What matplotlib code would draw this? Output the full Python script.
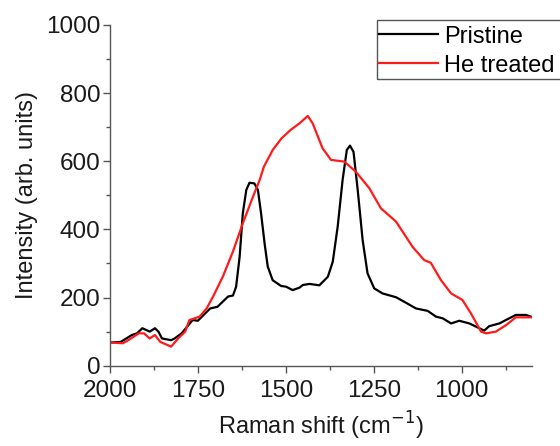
import matplotlib
matplotlib.use("Agg")
import matplotlib.pyplot as plt
from matplotlib.patches import Rectangle
from matplotlib.ticker import MultipleLocator

plt.rcParams['font.family'] = ['Liberation Sans', 'DejaVu Sans']

# Raman spectra
pristine_x = [2000, 1970, 1939, 1924, 1909, 1898, 1888, 1873, 1863, 1853, 1827, 1817,
              1797, 1766, 1751, 1716, 1695, 1665, 1651, 1642, 1632, 1623, 1613, 1604,
              1590, 1580, 1571, 1561, 1552, 1538, 1514, 1500, 1481, 1462, 1452, 1433,
              1405, 1381, 1367, 1353, 1339, 1327, 1318, 1308, 1296, 1282, 1268, 1249,
              1225, 1187, 1159, 1130, 1097, 1073, 1054, 1030, 1007, 978, 950, 936,
              922, 893, 865, 846, 817, 803]
pristine_y = [68, 70, 90, 95, 110, 105, 100, 110, 100, 80, 75, 80,
              95, 134, 132, 168, 173, 203, 206, 232, 320, 447, 516, 537,
              535, 516, 447, 359, 291, 251, 234, 232, 222, 229, 237, 240,
              236, 261, 305, 408, 545, 633, 646, 628, 516, 369, 271, 227,
              212, 201, 185, 168, 161, 144, 139, 124, 132, 124, 110, 103,
              116, 124, 139, 149, 149, 144]

he_x = [2000, 1964, 1949, 1919, 1904, 1888, 1873, 1858, 1827, 1807, 1787, 1775,
        1746, 1726, 1708, 1680, 1651, 1623, 1594, 1575, 1563, 1538, 1513, 1487,
        1462, 1438, 1424, 1396, 1372, 1334, 1301, 1263, 1230, 1187, 1140, 1107,
        1088, 1059, 1030, 998, 974, 945, 931, 903, 874, 846, 803]
he_y = [68, 66, 75, 95, 95, 80, 90, 70, 56, 80, 100, 134,
        144, 168, 202, 261, 335, 418, 496, 545, 584, 633, 667, 692,
        711, 733, 711, 638, 604, 599, 569, 521, 462, 423, 349, 310,
        302, 251, 212, 193, 154, 100, 95, 100, 119, 142, 142]

fig = plt.figure(figsize=(5.6, 4.46), dpi=100)
ax = fig.add_axes([0.197, 0.180, 0.753, 0.764])

ax.plot(pristine_x, pristine_y, color='black', lw=1.6, label='Pristine')
ax.plot(he_x, he_y, color='#ff1a1a', lw=1.6, label='He treated')

ax.set_xlim(2000, 800)
ax.set_ylim(0, 1000)
ax.xaxis.set_major_locator(MultipleLocator(250))
ax.xaxis.set_minor_locator(MultipleLocator(125))
ax.yaxis.set_major_locator(MultipleLocator(200))
ax.yaxis.set_minor_locator(MultipleLocator(100))

for s in ['top', 'right']:
    ax.spines[s].set_visible(False)
for s in ['left', 'bottom']:
    ax.spines[s].set_color('#555555')
    ax.spines[s].set_linewidth(1.0)

ax.tick_params(which='major', direction='out', length=5, width=1, colors='#555555',
               labelsize=17.5, labelcolor='#1a1a1a')
ax.tick_params(which='minor', direction='out', length=3, width=1, colors='#555555')
ax.tick_params(axis='x', which='major', pad=5)
ax.tick_params(axis='y', which='major', pad=2)

ax.set_xlabel('Raman shift (cm$^{-1}$)', fontsize=17, color='#1a1a1a', labelpad=6)
ax.set_ylabel('Intensity (arb. units)', fontsize=17, color='#1a1a1a', labelpad=6)

leg = fig.legend(loc='upper left', bbox_to_anchor=(0.673, 0.948), fontsize=17,
                 frameon=False, handlelength=2.5, handletextpad=0.25, borderpad=0.1,
                 labelspacing=0.3, borderaxespad=0)
# legend frame runs past the right edge of the picture, as in the reference
fig.add_artist(Rectangle((377 / 560, 1 - 79 / 446), 0.5, 59 / 446,
                         transform=fig.transFigure, fill=False,
                         edgecolor='#555555', lw=1.0, clip_on=False))

fig.savefig('out.png', dpi=100)
